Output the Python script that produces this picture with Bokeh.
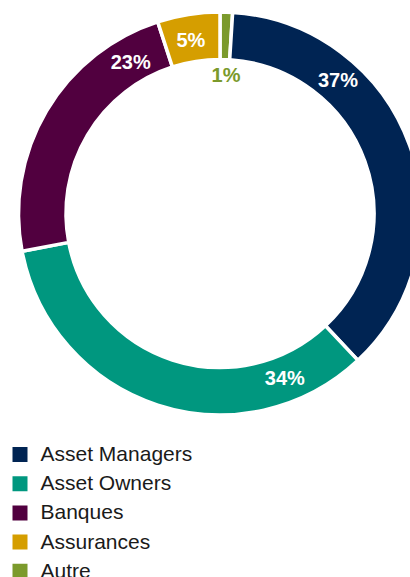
import math
from bokeh.plotting import figure
from bokeh.models import Range1d, ColumnDataSource
from bokeh.core.properties import value
from bokeh.embed import file_html
from bokeh.resources import INLINE

# Data (legend order)
categories = ["Asset Managers", "Asset Owners", "Banques", "Assurances", "Autre"]
shares = [37, 34, 23, 5, 1]
colors = ["#002453", "#00977f", "#51003f", "#d59e00", "#7b9a2c"]
label_colors = ["white", "white", "white", "white", "#7b9a2c"]

# Drawing order clockwise from 12 o'clock
pie_order = [4, 0, 1, 2, 3]

W, H = 410, 577
p = figure(width=W, height=H, output_backend="svg", toolbar_location=None,
           x_range=Range1d(0, W), y_range=Range1d(0, H), min_border=0)
p.axis.visible = False
p.grid.visible = False
p.outline_line_color = None
p.background_fill_color = "white"
p.border_fill_color = "white"

cx, cy = 219.5, H - 213
r_in, r_out = 154, 201.5

total = float(sum(shares))
starts, ends, cols = [], [], []
cum = 0.0
for i in pie_order:
    a0 = cum / total * 2 * math.pi
    cum += shares[i]
    a1 = cum / total * 2 * math.pi
    starts.append(math.pi / 2 - a0)
    ends.append(math.pi / 2 - a1)
    cols.append(colors[i])

src = ColumnDataSource(dict(x=[cx] * len(starts), y=[cy] * len(starts),
                            s=starts, e=ends, c=cols))
p.annular_wedge(x="x", y="y", inner_radius=r_in, outer_radius=r_out,
                start_angle="s", end_angle="e", direction="clock",
                fill_color="c", line_color="white", line_width=3.5, source=src)

# Label placement (clockwise degrees from top, radius in px)
label_angle = {0: 41.5, 1: 158.5, 2: 329.5, 3: 350.5, 4: 2.5}
label_radius = {0: 178, 1: 177, 2: 176, 3: 176, 4: 139}
lx, ly, lt, lc = [], [], [], []
for i in range(len(categories)):
    t = math.radians(label_angle[i])
    lx.append(cx + label_radius[i] * math.sin(t))
    ly.append(cy + label_radius[i] * math.cos(t))
    lt.append(f"{shares[i]}%")
    lc.append(label_colors[i])
p.text(x=lx, y=ly, text=lt, text_color=lc, text_font=value("Liberation Sans"),
       text_font_style="bold", text_font_size="20px",
       text_align="center", text_baseline="middle")

# Legend
row0, step = H - 454, 29.2
leg_y = [row0 - k * step for k in range(len(categories))]
p.rect(x=[19.5] * len(categories), y=leg_y, width=15, height=15,
       fill_color=colors, line_color=None)
p.text(x=[40] * len(categories), y=[v + 1 for v in leg_y], text=categories,
       text_color="#1a1a1a", text_font=value("Liberation Sans"),
       text_font_size="21px", text_align="left", text_baseline="middle")

open("out.html", "w").write(file_html(p, INLINE))
